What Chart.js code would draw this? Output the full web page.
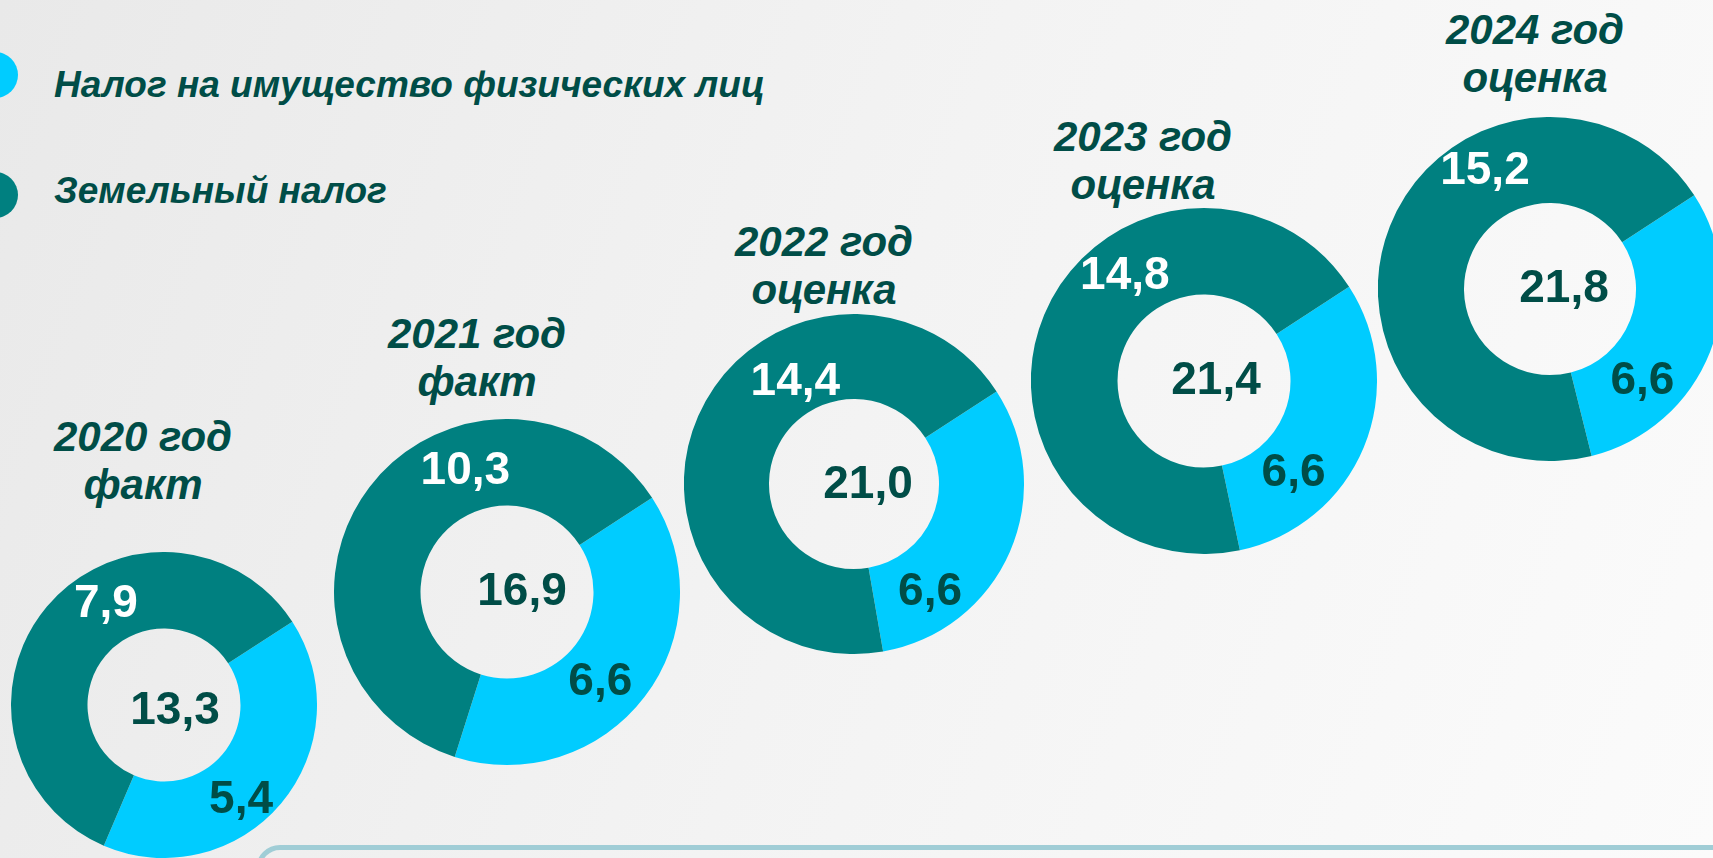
<!DOCTYPE html>
<html lang="ru">
<head>
<meta charset="utf-8">
<title>Налог на имущество и земельный налог</title>
<script src="https://cdn.jsdelivr.net/npm/chart.js@4.4.1/dist/chart.umd.min.js"></script>
<style>
  html, body {
    margin: 0;
    padding: 0;
    width: 1713px;
    height: 858px;
    overflow: hidden;
  }
  body {
    position: relative;
    background: linear-gradient(110deg, #e9e9e9 0%, #f3f3f3 50%, #fbfbfb 100%);
    font-family: "Liberation Sans", Arial, sans-serif;
  }
  .legend-item {
    position: absolute;
    left: 54px;
    font: italic bold 37px "Liberation Sans", Arial, sans-serif;
    line-height: 42px;
    color: #004d47;
    white-space: nowrap;
  }
  .legend-dot {
    position: absolute;
    left: -82px;
    width: 46px;
    height: 46px;
    border-radius: 50%;
  }
  .year-title {
    position: absolute;
    width: 320px;
    text-align: center;
    font: italic bold 42px "Liberation Sans", Arial, sans-serif;
    line-height: 48px;
    color: #004d47;
  }
  .bottom-box {
    position: absolute;
    left: 256px;
    top: 845px;
    width: 1520px;
    height: 120px;
    border: 5px solid #a0cdd6;
    border-radius: 24px;
    box-sizing: border-box;
  }
  canvas {
    position: absolute;
  }
</style>
</head>
<body>
<div class="bottom-box"></div>
<div id="legend"></div>
<div id="charts"></div>

<script>
// data
const years = ['2020 год', '2021 год', '2022 год', '2023 год', '2024 год'];
const statuses = ['факт', 'факт', 'оценка', 'оценка', 'оценка'];
const seriesNames = ['Налог на имущество физических лиц', 'Земельный налог'];
const propertyTax = [5.4, 6.6, 6.6, 6.6, 6.6];
const landTax = [7.9, 10.3, 14.4, 14.8, 15.2];

// look
const colors = ['#00ccff', '#008080'];
const labelColors = ['#004d47', '#ffffff'];

// where each doughnut sits: center, outer radius, title center/top,
// label spots [angle clockwise from top, share of outer radius] and total offset
const layout = [
  { cx: 164, cy: 705, r: 153, tx: 143, ty: 413, spots: [[141, 0.80], [330, 0.76]], dx: 11, dy: 6 },
  { cx: 507, cy: 592, r: 173, tx: 477, ty: 310, spots: [[134, 0.75], [341, 0.74]], dx: 15, dy: 0 },
  { cx: 854, cy: 484, r: 170, tx: 824, ty: 218, spots: [[145, 0.78], [330, 0.69]], dx: 14, dy: 1 },
  { cx: 1204, cy: 381, r: 173, tx: 1143, ty: 113, spots: [[136, 0.745], [323, 0.76]], dx: 12, dy: 0 },
  { cx: 1550, cy: 289, r: 172, tx: 1535, ty: 6, spots: [[135, 0.76], [331, 0.78]], dx: 14, dy: 0 }
];

function fmt(v) {
  return v.toFixed(1).replace('.', ',');
}

// legend
const legend = document.getElementById('legend');
const legendTops = [64, 170];
const dotTops = [-12, 2];
seriesNames.forEach(function (name, i) {
  const item = document.createElement('div');
  item.className = 'legend-item';
  item.style.top = legendTops[i] + 'px';
  item.textContent = name;
  const dot = document.createElement('div');
  dot.className = 'legend-dot';
  dot.style.background = colors[i];
  dot.style.top = dotTops[i] + 'px';
  item.appendChild(dot);
  legend.appendChild(item);
});

// values on the rings and total in the hole
const valueLabels = {
  id: 'valueLabels',
  afterDatasetsDraw(chart, args, opts) {
    const ctx = chart.ctx;
    const meta = chart.getDatasetMeta(0);
    const values = chart.data.datasets[0].data;
    const first = meta.data[0];
    const cx = first.x, cy = first.y, outer = first.outerRadius;
    ctx.save();
    ctx.font = 'bold 46px "Liberation Sans", Arial, sans-serif';
    ctx.textAlign = 'center';
    ctx.textBaseline = 'middle';
    meta.data.forEach(function (arc, i) {
      const a = (opts.spots[i][0] - 90) * Math.PI / 180;
      const r = outer * opts.spots[i][1];
      ctx.fillStyle = labelColors[i];
      ctx.fillText(fmt(values[i]), cx + Math.cos(a) * r, cy + Math.sin(a) * r);
    });
    const total = values.reduce(function (s, v) { return s + v; }, 0);
    ctx.fillStyle = '#004d47';
    ctx.fillText(fmt(total), cx + opts.dx, cy + opts.dy);
    ctx.restore();
  }
};

const holder = document.getElementById('charts');
years.forEach(function (year, i) {
  const pos = layout[i];

  const title = document.createElement('div');
  title.className = 'year-title';
  title.style.left = (pos.tx - 160) + 'px';
  title.style.top = pos.ty + 'px';
  title.innerHTML = year + '<br>' + statuses[i];
  holder.appendChild(title);

  const canvas = document.createElement('canvas');
  const size = pos.r * 2;
  canvas.width = size;
  canvas.height = size;
  canvas.style.left = (pos.cx - pos.r) + 'px';
  canvas.style.top = (pos.cy - pos.r) + 'px';
  holder.appendChild(canvas);

  new Chart(canvas.getContext('2d'), {
    type: 'doughnut',
    data: {
      labels: seriesNames,
      datasets: [{
        data: [propertyTax[i], landTax[i]],
        backgroundColor: colors,
        borderWidth: 0
      }]
    },
    options: {
      responsive: false,
      animation: false,
      cutout: '50%',
      rotation: 57,
      layout: { padding: 0 },
      plugins: {
        legend: { display: false },
        tooltip: { enabled: false },
        valueLabels: { spots: pos.spots, dx: pos.dx, dy: pos.dy }
      }
    },
    plugins: [valueLabels]
  });
});
</script>
</body>
</html>
